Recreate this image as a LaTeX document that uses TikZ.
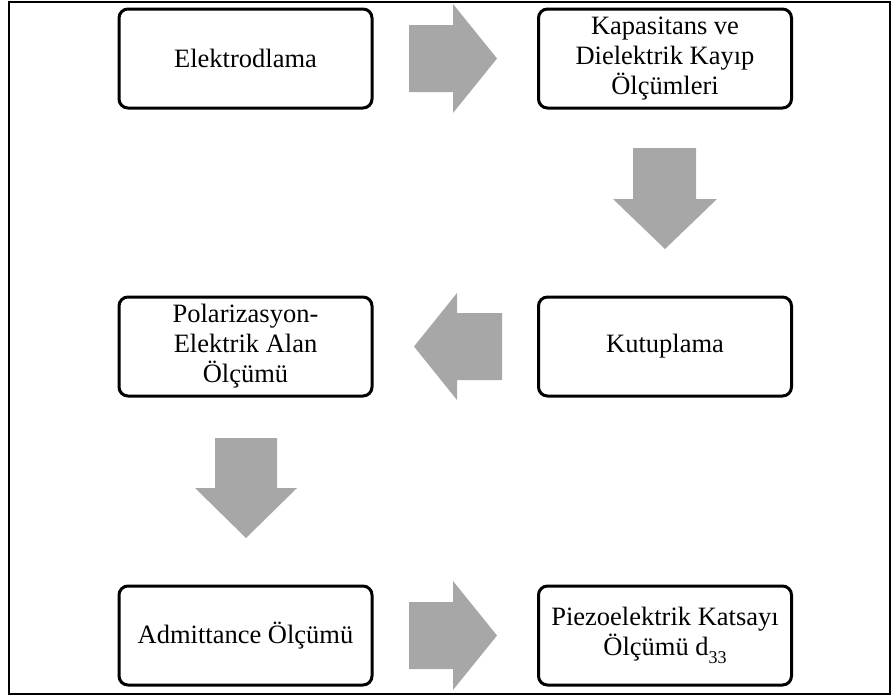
\documentclass[tikz,border=0pt]{standalone}
\usepackage{fontspec}
\setmainfont{Liberation Serif}
\definecolor{arrowgray}{RGB}{167,167,167}
\newcommand{\lowsub}[1]{\raisebox{-0.3em}{\fontsize{18}{18}\selectfont #1}}
\begin{document}
\begin{tikzpicture}[x=1pt,y=-1pt,
  stepbox/.style={draw=black, line width=3pt, rounded corners=9pt,
    minimum width=253pt, minimum height=99pt, inner sep=0pt,
    align=center, font=\fontsize{26.5}{30}\selectfont},
  blockarrow/.style={fill=arrowgray, draw=none},
  outerframe/.style={draw=black, line width=1.5pt}]
\useasboundingbox (0,0) rectangle (893,697);
\draw[outerframe] (9,2) rectangle (890,694);

% process steps
\node[stepbox] (elek)  at (245.5,58.5)  {Elektrodlama};
\node[stepbox] (kapa)  at (665,58.5)    {Kapasitans ve\\Dielektrik Kayıp\\Ölçümleri};
\node[stepbox] (kutup) at (665,346.5)   {Kutuplama};
\node[stepbox] (polar) at (245.5,346.5) {Polarizasyon-\\Elektrik Alan\\Ölçümü};
\node[stepbox] (admit) at (245.5,635.5) {Admittance Ölçümü};
\node[stepbox] (piezo) at (665,635.5)   {Piezoelektrik Katsayı\\Ölçümü d\lowsub{33}};

% block arrows between the steps
\fill[blockarrow] (409,25) -- (453,25) -- (453,4) -- (497,58.5)
  -- (453,113) -- (453,92) -- (409,92) -- cycle;
\fill[blockarrow] (633,148) -- (696,148) -- (696,199) -- (717,199)
  -- (665,249) -- (613,199) -- (633,199) -- cycle;
\fill[blockarrow] (502,313) -- (457,313) -- (457,293) -- (414,346.5)
  -- (457,400) -- (457,380) -- (502,380) -- cycle;
\fill[blockarrow] (215,438) -- (277,438) -- (277,488) -- (297,488)
  -- (246,538) -- (195,488) -- (215,488) -- cycle;
\fill[blockarrow] (409,602) -- (453,602) -- (453,581) -- (497,635.5)
  -- (453,690) -- (453,669) -- (409,669) -- cycle;
\end{tikzpicture}
\end{document}
